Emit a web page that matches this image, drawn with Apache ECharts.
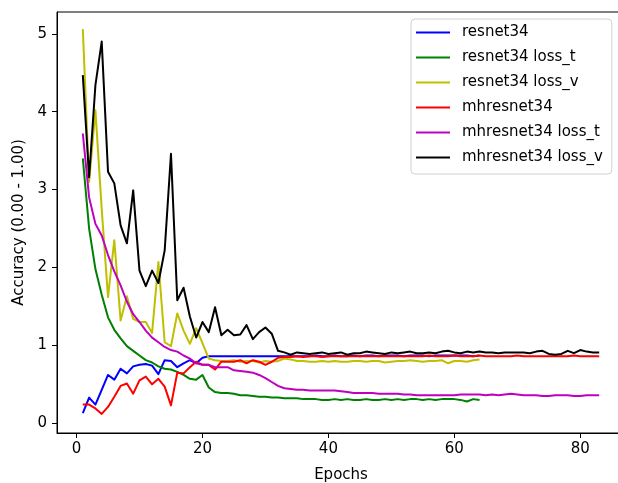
<!DOCTYPE html>
<html>
<head>
<meta charset="utf-8">
<script src="https://cdn.jsdelivr.net/npm/echarts@6/dist/echarts.min.js"></script>
<style>
  html, body { margin: 0; padding: 0; background: #ffffff; }
  #chart { width: 618px; height: 483px; }
</style>
</head>
<body>
<div id="chart"></div>
<script>
// Training curves per epoch (epochs start at 1)
const resnet34 = [
  0.13, 0.33, 0.24, 0.43, 0.62, 0.56, 0.70, 0.64, 0.73, 0.75,
  0.76, 0.74, 0.63, 0.81, 0.80, 0.72, 0.77, 0.81, 0.77, 0.84,
  0.86, 0.86, 0.86, 0.86, 0.86, 0.86, 0.86, 0.86, 0.86, 0.86,
  0.86, 0.86, 0.86, 0.86, 0.86, 0.86, 0.86, 0.87, 0.86, 0.86,
  0.87, 0.86, 0.86, 0.87, 0.86, 0.87, 0.87, 0.86, 0.87, 0.87,
  0.87, 0.86, 0.87, 0.87, 0.87, 0.86, 0.87, 0.87, 0.87, 0.87,
  0.87, 0.87, 0.86, 0.87
];
const resnet34LossT = [
  3.40, 2.50, 1.98, 1.65, 1.36, 1.20, 1.09, 0.99, 0.93, 0.87,
  0.81, 0.78, 0.73, 0.70, 0.69, 0.66, 0.62, 0.57, 0.56, 0.62,
  0.46, 0.40, 0.39, 0.39, 0.38, 0.36, 0.36, 0.35, 0.34, 0.34,
  0.33, 0.33, 0.32, 0.32, 0.32, 0.31, 0.31, 0.31, 0.30, 0.30,
  0.31, 0.30, 0.31, 0.30, 0.30, 0.31, 0.30, 0.30, 0.31, 0.30,
  0.31, 0.30, 0.31, 0.31, 0.30, 0.31, 0.30, 0.31, 0.31, 0.31,
  0.30, 0.28, 0.31, 0.30
];
const resnet34LossV = [
  5.06, 3.10, 4.02, 2.75, 1.62, 2.35, 1.32, 1.63, 1.34, 1.30,
  1.30, 1.16, 2.07, 1.04, 0.99, 1.41, 1.19, 1.02, 1.22, 1.03,
  0.83, 0.81, 0.80, 0.80, 0.81, 0.79, 0.80, 0.80, 0.78, 0.80,
  0.79, 0.80, 0.83, 0.82, 0.80, 0.80, 0.79, 0.79, 0.80, 0.79,
  0.80, 0.79, 0.79, 0.80, 0.80, 0.79, 0.80, 0.80, 0.78, 0.79,
  0.80, 0.80, 0.81, 0.80, 0.79, 0.80, 0.80, 0.81, 0.77, 0.80,
  0.80, 0.79, 0.81, 0.82
];
const mhresnet34 = [
  0.24, 0.24, 0.19, 0.12, 0.21, 0.34, 0.48, 0.51, 0.38, 0.55,
  0.60, 0.50, 0.57, 0.47, 0.23, 0.65, 0.64, 0.72, 0.79, 0.75,
  0.75, 0.69, 0.79, 0.79, 0.79, 0.81, 0.77, 0.81, 0.79, 0.75,
  0.79, 0.84, 0.85, 0.85, 0.86, 0.85, 0.86, 0.86, 0.85, 0.86,
  0.86, 0.86, 0.86, 0.86, 0.86, 0.86, 0.86, 0.86, 0.86, 0.86,
  0.86, 0.86, 0.86, 0.86, 0.86, 0.87, 0.86, 0.86, 0.86, 0.87,
  0.86, 0.86, 0.86, 0.87, 0.86, 0.86, 0.86, 0.86, 0.86, 0.87,
  0.86, 0.86, 0.86, 0.86, 0.86, 0.86, 0.86, 0.86, 0.87, 0.86,
  0.86, 0.86, 0.86
];
const mhresnet34LossT = [
  3.72, 2.90, 2.56, 2.41, 2.16, 1.95, 1.77, 1.56, 1.40, 1.30,
  1.19, 1.10, 1.04, 0.98, 0.94, 0.92, 0.87, 0.83, 0.77, 0.75,
  0.75, 0.72, 0.72, 0.72, 0.68, 0.67, 0.66, 0.65, 0.62, 0.58,
  0.53, 0.48, 0.45, 0.44, 0.43, 0.43, 0.42, 0.42, 0.42, 0.42,
  0.42, 0.41, 0.40, 0.39, 0.39, 0.39, 0.39, 0.38, 0.38, 0.38,
  0.38, 0.37, 0.37, 0.36, 0.36, 0.36, 0.36, 0.36, 0.36, 0.36,
  0.37, 0.37, 0.37, 0.37, 0.36, 0.37, 0.36, 0.37, 0.38, 0.37,
  0.36, 0.36, 0.36, 0.35, 0.35, 0.36, 0.36, 0.36, 0.35, 0.35,
  0.36, 0.36, 0.36
];
const mhresnet34LossV = [
  4.47, 3.16, 4.34, 4.90, 3.23, 3.08, 2.54, 2.31, 2.99, 1.96,
  1.76, 1.96, 1.80, 2.22, 3.46, 1.58, 1.74, 1.37, 1.10, 1.30,
  1.17, 1.49, 1.13, 1.20, 1.13, 1.14, 1.26, 1.08, 1.17, 1.23,
  1.15, 0.93, 0.91, 0.88, 0.91, 0.90, 0.89, 0.90, 0.91, 0.89,
  0.90, 0.91, 0.88, 0.90, 0.90, 0.92, 0.91, 0.90, 0.89, 0.91,
  0.90, 0.91, 0.92, 0.90, 0.90, 0.91, 0.90, 0.92, 0.93, 0.91,
  0.90, 0.92, 0.91, 0.92, 0.91, 0.91, 0.90, 0.91, 0.91, 0.91,
  0.91, 0.90, 0.92, 0.93, 0.89, 0.88, 0.89, 0.93, 0.90, 0.94,
  0.92, 0.91, 0.91
];

const xTicks = [0, 20, 40, 60, 80];
const yTicks = [0, 1, 2, 3, 4, 5];

const seriesNames = [
  'resnet34', 'resnet34 loss_t', 'resnet34 loss_v',
  'mhresnet34', 'mhresnet34 loss_t', 'mhresnet34 loss_v'
];
const seriesValues = [
  resnet34, resnet34LossT, resnet34LossV,
  mhresnet34, mhresnet34LossT, mhresnet34LossV
];
const seriesColors = ['#0000ff', '#008000', '#bfbf00', '#ff0000', '#bf00bf', '#000000'];

const FONT = 'DejaVu Sans';

const chart = echarts.init(document.getElementById('chart'), null, { renderer: 'canvas' });

chart.setOption({
  animation: false,
  backgroundColor: '#ffffff',
  textStyle: { fontFamily: FONT },
  grid: {
    left: 57, top: 12, width: 568, height: 421,
    outerBoundsMode: 'none',
    containLabel: false,
    show: true, borderColor: '#000000', borderWidth: 1, backgroundColor: '#ffffff'
  },
  legend: {
    orient: 'vertical',
    left: 411, top: 19,
    padding: [6, 9, 9, 4],
    itemWidth: 34, itemHeight: 14, itemGap: 10,
    itemStyle: { opacity: 0 },
    backgroundColor: 'rgba(255,255,255,0.8)',
    borderColor: '#d0d0d0', borderWidth: 1, borderRadius: 4,
    textStyle: { fontFamily: FONT, fontSize: 15, color: '#000000', lineHeight: 14, padding: [0, 0, 0, 7] },
    data: seriesNames
  },
  xAxis: {
    type: 'value',
    min: -3.1, max: 87.1,
    name: 'Epochs', nameLocation: 'middle', nameGap: 35,
    nameTextStyle: { fontFamily: FONT, fontSize: 15, color: '#000000' },
    axisLine: { show: true, onZero: false, lineStyle: { color: '#000000', width: 1 } },
    axisTick: { show: true, inside: false, length: 5, customValues: xTicks, lineStyle: { color: '#000000', width: 1 } },
    axisLabel: { show: true, margin: 9, customValues: xTicks, fontFamily: FONT, fontSize: 15, color: '#000000' },
    splitLine: { show: false }
  },
  yAxis: {
    type: 'value',
    min: -0.125, max: 5.28,
    name: 'Accuracy (0.00 - 1.00)', nameLocation: 'middle', nameGap: 29, nameRotate: 90,
    nameTextStyle: { fontFamily: FONT, fontSize: 15, color: '#000000' },
    axisLine: { show: true, onZero: false, lineStyle: { color: '#000000', width: 1 } },
    axisTick: { show: true, inside: false, length: 5, customValues: yTicks, lineStyle: { color: '#000000', width: 1 } },
    axisLabel: { show: true, margin: 10, customValues: yTicks, fontFamily: FONT, fontSize: 15, color: '#000000' },
    splitLine: { show: false }
  },
  series: seriesNames.map((name, i) => ({
    name: name,
    type: 'line',
    symbol: 'none',
    showSymbol: false,
    smooth: false,
    clip: true,
    color: seriesColors[i],
    lineStyle: { color: seriesColors[i], width: 2, join: 'round', cap: 'butt' },
    data: seriesValues[i].map((v, k) => [k + 1, v])
  }))
});
</script>
</body>
</html>
